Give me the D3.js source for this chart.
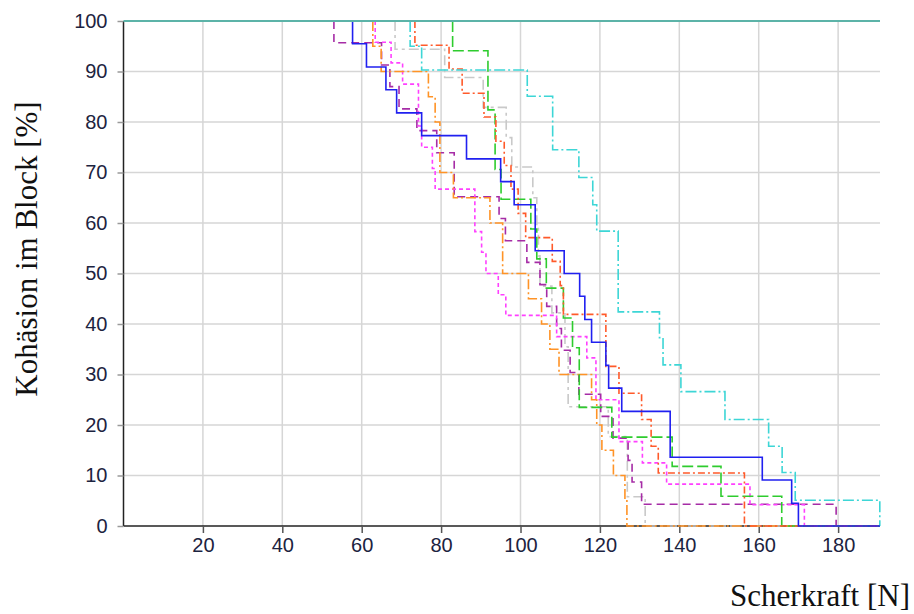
<!DOCTYPE html>
<html>
<head>
<meta charset="utf-8">
<script src="https://cdn.jsdelivr.net/npm/d3@7"></script>
<style>
  html, body { margin: 0; padding: 0; background: #fff; }
  svg { display: block; }
</style>
</head>
<body>
<div id="chart"></div>
<script>
// step curves: force [N] at which the level drops, and the level [%] after the drop
const blueForce = [57.7, 61.2, 66.1, 68.8, 75.1, 86.4, 95.0, 98.4, 103.7, 111.0, 114.9, 116.2, 117.9, 121.5, 122.2, 125.5, 137.7, 160.9, 168.3, 170.0];
const blueLevel = [95.5, 90.9, 86.4, 81.8, 77.3, 72.7, 68.2, 63.6, 54.5, 50.0, 45.5, 40.9, 36.4, 31.8, 27.3, 22.7, 13.6, 9.1, 4.5, 0];

const cyanForce = [72.2, 75.1, 101.7, 108.1, 114.7, 118.2, 119.2, 124.6, 135.0, 135.9, 140.4, 151.5, 162.5, 165.9, 169.2, 190.5];
const cyanLevel = [95.0, 90.3, 85.1, 74.5, 69.0, 63.6, 58.4, 42.4, 37.3, 31.9, 26.6, 21.1, 15.8, 10.6, 5.1, 0];

const tomatoForce = [73.4, 82.0, 85.3, 90.8, 93.8, 95.9, 97.6, 99.4, 101.3, 108.0, 110.0, 110.8, 121.5, 124.8, 130.5, 132.9, 134.7, 156.4];
const tomatoLevel = [95.2, 90.5, 85.7, 81.0, 76.2, 71.4, 66.7, 61.9, 57.1, 52.4, 47.6, 41.9, 31.6, 26.3, 21.1, 15.8, 10.5, 0];

const greenForce = [82.9, 91.8, 93.6, 95.1, 102.6, 104.1, 106.5, 110.8, 113.1, 114.8, 123.0, 138.2, 150.5, 165.8];
const greenLevel = [94.1, 82.4, 70.6, 64.7, 58.8, 52.9, 47.1, 41.2, 35.3, 23.5, 17.6, 11.8, 5.9, 0];

const grayForce = [68.4, 80.9, 90.6, 96.4, 97.8, 103.1, 104.1, 104.5, 104.9, 107.9, 111.2, 112.0, 122.1, 126.9, 131.4];
const grayLevel = [94.4, 88.8, 82.9, 76.9, 71.1, 65.0, 59.3, 53.5, 47.5, 42.2, 35.5, 23.6, 17.7, 5.8, 0];

const orangeForce = [62.8, 64.9, 76.8, 78.5, 79.7, 83.1, 92.3, 95.5, 102.0, 105.3, 107.4, 109.7, 117.9, 119.2, 120.5, 123.4, 126.3, 126.8];
const orangeLevel = [95, 90, 85, 80, 70, 65, 60, 50, 45, 40, 35, 30, 25, 20, 15, 10, 5, 0];

const magentaForce = [63.4, 67.4, 70.3, 74.3, 75.1, 77.8, 78.5, 88.5, 90.2, 91.3, 94.4, 96.3, 109.1, 116.7, 119.0, 124.8, 130.7, 136.8, 157.8, 171.5];
const magentaLevel = [95.8, 91.7, 87.5, 79.2, 75.0, 70.8, 66.7, 58.3, 54.2, 50.0, 45.8, 41.7, 37.5, 33.3, 25.0, 16.7, 12.5, 8.3, 4.2, 0];

const purpleForce = [53.0, 65.0, 67.1, 69.4, 73.9, 78.9, 83.3, 94.6, 96.2, 101.6, 104.9, 106.6, 109.1, 110.3, 112.5, 114.7, 120.2, 123.3, 127.1, 128.1, 130.5, 179.5];
const purpleLevel = [95.7, 91.3, 87.0, 82.6, 78.3, 73.9, 65.2, 60.9, 56.5, 52.2, 47.8, 43.5, 39.1, 34.8, 30.4, 26.1, 21.7, 17.4, 13.0, 8.7, 4.3, 0];

const xTicks = [20, 40, 60, 80, 100, 120, 140, 160, 180];
const yTicks = [0, 10, 20, 30, 40, 50, 60, 70, 80, 90, 100];
const xMax = 190.55;

const series = [
  { force: grayForce, level: grayLevel, color: "#c9c9c9", dash: "10,4,3,4" },
  { force: purpleForce, level: purpleLevel, color: "#a62ca6", dash: "8,5" },
  { force: magentaForce, level: magentaLevel, color: "#ff40ff", dash: "4,3" },
  { force: orangeForce, level: orangeLevel, color: "#ff9326", dash: "10,3,2,3" },
  { force: greenForce, level: greenLevel, color: "#2ecc2e", dash: "11,4" },
  { force: tomatoForce, level: tomatoLevel, color: "#ff5a2a", dash: "7,3,2,3" },
  { force: cyanForce, level: cyanLevel, color: "#3dd6d6", dash: "11,3,2,3" },
  { force: blueForce, level: blueLevel, color: "#2020f0", dash: null },
];

const width = 914;
const height = 614;
const plot = { left: 123.5, right: 880, top: 21, bottom: 526 };
const textColor = "#1c2340";
const tickFont = "'Liberation Sans', Arial, sans-serif";

const svg = d3.select("#chart").append("svg").attr("width", width).attr("height", height);

const x = d3.scaleLinear().domain([0, xMax]).range([plot.left, plot.right]);
const y = d3.scaleLinear().domain([0, 100]).range([plot.bottom, plot.top]);

// grid
svg
  .append("g")
  .selectAll("line")
  .data(xTicks)
  .join("line")
  .attr("x1", (d) => x(d))
  .attr("x2", (d) => x(d))
  .attr("y1", plot.top)
  .attr("y2", plot.bottom)
  .attr("stroke", "#d6d6d6")
  .attr("stroke-width", 1.5);

svg
  .append("g")
  .selectAll("line")
  .data(yTicks.filter((d) => d > 0 && d < 100))
  .join("line")
  .attr("x1", plot.left)
  .attr("x2", plot.right)
  .attr("y1", (d) => y(d))
  .attr("y2", (d) => y(d))
  .attr("stroke", "#d6d6d6")
  .attr("stroke-width", 1.5);

// axes
const xAxis = svg
  .append("g")
  .attr("transform", `translate(0,${plot.bottom})`)
  .call(d3.axisBottom(x).tickValues(xTicks).tickSize(7).tickPadding(5));
xAxis.select(".domain").attr("stroke", "#222").attr("stroke-width", 1.5).attr("d", `M${plot.left},0H${plot.right}`);
xAxis.selectAll(".tick line").attr("stroke", "#555").attr("stroke-width", 1.5);
xAxis
  .selectAll(".tick text")
  .attr("fill", textColor)
  .attr("font-family", tickFont)
  .attr("font-size", 20);

const yAxis = svg
  .append("g")
  .attr("transform", `translate(${plot.left},0)`)
  .call(d3.axisLeft(y).tickValues(yTicks).tickSize(6).tickPadding(10));
yAxis.select(".domain").attr("stroke", "#222").attr("stroke-width", 1.5).attr("d", `M0,${plot.top}V${plot.bottom}`);
yAxis.selectAll(".tick line").attr("stroke", "#999").attr("stroke-width", 1.5);
yAxis
  .selectAll(".tick text")
  .attr("fill", textColor)
  .attr("font-family", tickFont)
  .attr("font-size", 20);

// step lines
const line = d3
  .line()
  .curve(d3.curveStepAfter)
  .x((d) => x(d[0]))
  .y((d) => y(d[1]));

svg
  .append("g")
  .selectAll("path")
  .data(series)
  .join("path")
  .attr("fill", "none")
  .attr("stroke", (d) => d.color)
  .attr("stroke-width", 1.6)
  .attr("stroke-dasharray", (d) => d.dash)
  .attr("d", (d) => {
    const pts = [[d.force[0], 100]].concat(d.force.map((f, i) => [f, d.level[i]]));
    pts.push([xMax, 0]);
    return line(pts);
  });

// top border at 100 %
svg
  .append("line")
  .attr("x1", plot.left)
  .attr("x2", plot.right)
  .attr("y1", y(100))
  .attr("y2", y(100))
  .attr("stroke", "#5cb3a8")
  .attr("stroke-width", 2);

// titles
svg
  .append("text")
  .attr("transform", `translate(37,249) rotate(-90)`)
  .attr("text-anchor", "middle")
  .attr("font-family", "'Liberation Serif', 'Times New Roman', serif")
  .attr("font-size", 31)
  .attr("fill", "#111")
  .text("Kohäsion im Block [%]");

svg
  .append("text")
  .attr("x", 910)
  .attr("y", 606)
  .attr("text-anchor", "end")
  .attr("font-family", "'Liberation Serif', 'Times New Roman', serif")
  .attr("font-size", 31)
  .attr("fill", "#111")
  .text("Scherkraft [N]");
</script>
</body>
</html>
